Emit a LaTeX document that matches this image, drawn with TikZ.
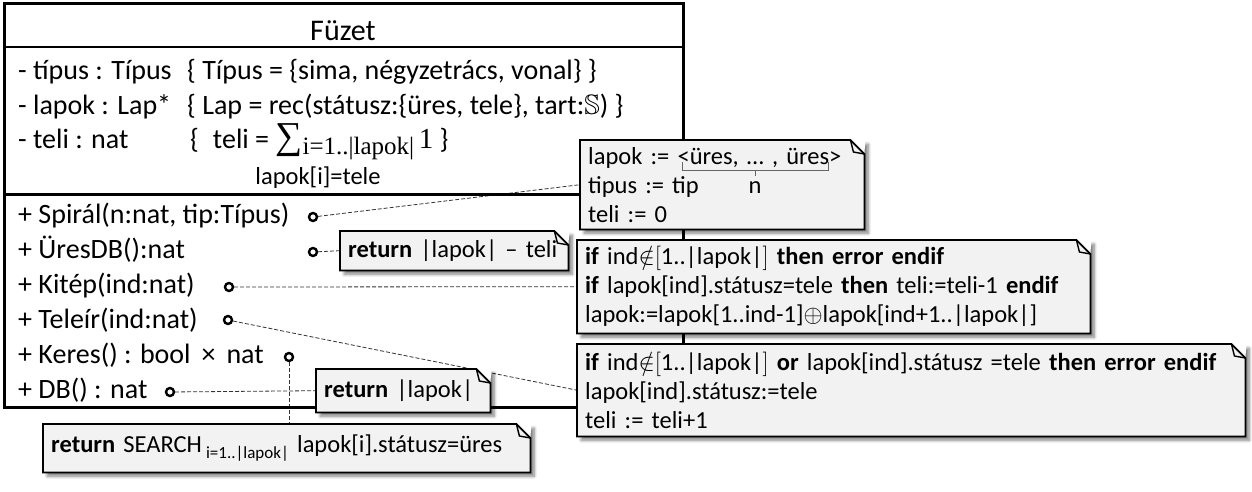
\RequirePackage{fix-cm}
\documentclass[tikz,border=0pt]{standalone}
\usepackage{amssymb}
\usepackage[no-math]{fontspec}
\setmainfont{Carlito}
\newfontfamily\sumfont{Liberation Serif}
\usetikzlibrary{shadows.blur,backgrounds}

\definecolor{notefill}{HTML}{F2F2F2}
\newcommand\fuzetfont{\fontsize{28}{34}\selectfont}
\newcommand\megjfont{\fontsize{24.5}{29}\selectfont}

\tikzset{
  classline/.style={anchor=base west, inner sep=0pt, font=\fuzetfont},
  port/.style={circle, draw, fill=white, line width=2.4pt, inner sep=0pt, minimum size=8pt},
  link/.style={line width=0.8pt, black!80, dash pattern=on 4pt off 2pt},
  megj/.style={anchor=north west, fill=notefill, inner xsep=8pt, inner ysep=0pt,
    align=left, font=\megjfont,
    blur shadow={shadow xshift=4pt, shadow yshift=-4pt, shadow blur steps=8,
      shadow blur radius=3pt, shadow opacity=50}},
}

% szamarfules jegyzet keret
\newcommand\szamar[1]{%
  \fill[white] ([xshift=-14pt]#1.north east) -- ([xshift=1pt,yshift=1pt]#1.north east)
    -- ([yshift=-14pt]#1.north east) -- cycle;
  \draw[line width=1.8pt] (#1.north west) -- ([xshift=-14pt]#1.north east)
    -- ([yshift=-14pt]#1.north east) -- (#1.south east) -- (#1.south west) -- cycle;
  \draw[line width=1.4pt] ([xshift=-14pt]#1.north east)
    -- ([xshift=-11pt,yshift=-12pt]#1.north east) -- ([yshift=-14pt]#1.north east);
}

\begin{document}
\begin{tikzpicture}[x=1pt, y=-1pt]
\useasboundingbox (0,0) rectangle (1252,492);

% osztaly
\draw[line width=3pt] (4,4) rectangle (683,407);
\draw[line width=2pt] (4,47) -- (683,47);
\draw[line width=3pt] (4,194) -- (683,194);

\node[anchor=base, inner sep=0pt, font=\fontsize{30}{36}\selectfont] (fuzet) at (343,41) {Füzet};

\node[classline] (tipus) at (18,80) {- típus : Típus};
\node[classline] (tipusdef) at (187,80) {\{ Típus = \{sima, négyzetrács, vonal\} \}};
\node[classline] (lapok) at (18,114) {- lapok : Lap*};
\node[classline] (lapokdef) at (187,114) {\{ Lap = rec(státusz:\{üres, tele\}, tart:$\mathbb{S}$) \}};
\node[classline] (teli) at (18,148) {- teli : nat};
\node[classline] (telidef) at (190,148) {\{\hspace{14pt}teli =
  {\sumfont\fontsize{38}{40}\selectfont ∑}\raisebox{-6pt}{\sumfont\fontsize{25}{25}\selectfont i=1..|lapok|}\,{\sumfont\fontsize{29}{30}\selectfont 1} \}};
\node[anchor=base, inner sep=0pt, font=\megjfont] (feltetel) at (318,184) {lapok[i]=tele};

\node[classline] (spiral) at (18,223) {+ Spirál(n:nat, tip:Típus)};
\node[classline] (uresdb) at (18,258) {+ ÜresDB():nat};
\node[classline] (kitep) at (18,293) {+ Kitép(ind:nat)};
\node[classline] (teleir) at (18,328) {+ Teleír(ind:nat)};
\node[classline] (keres) at (18,363) {+ Keres() : bool \,×\, nat};
\node[classline] (db) at (18,398) {+ DB() : nat};

% jegyzetek
\node[megj, minimum width=284pt, minimum height=89pt, text width=268pt] (spiralnote) at (580,140)
  {lapok := <üres, … , üres>\\tipus := tip\\teli := 0};
\node[megj, minimum width=228pt, minimum height=39pt, text width=212pt] (uresnote) at (340,231)
  {\textbf{return} |lapok| – teli};
\node[megj, minimum width=513pt, minimum height=93pt, text width=497pt] (kitepnote) at (577,240)
  {\textbf{if} ind$\mathord{\notin}[$1..|lapok|$]$ \textbf{then error endif}\\
   \textbf{if} lapok[ind].státusz=tele \textbf{then} teli:=teli-1 \textbf{endif}\\
   lapok:=lapok[1..ind-1]$\oplus$lapok[ind+1..|lapok|]};
\node[megj, minimum width=668pt, minimum height=92pt, text width=652pt] (teleirnote) at (577,344)
  {\textbf{if} ind$\mathord{\notin}[$1..|lapok|$]$ \textbf{or} lapok[ind].státusz =tele \textbf{then error endif}\\
   lapok[ind].státusz:=tele\\
   teli := teli+1};
\node[megj, minimum width=174pt, minimum height=43pt, text width=158pt] (dbnote) at (316,369)
  {\textbf{return} |lapok|};
\node[megj, minimum width=487pt, minimum height=48pt, text width=471pt] (keresnote) at (43,424)
  {\textbf{return} SEARCH\,\raisebox{-6pt}{\fontsize{17}{17}\selectfont i=1..|lapok|} lapok[i].státusz=üres};

\foreach \n in {spiralnote,uresnote,kitepnote,teleirnote,dbnote,keresnote}
  \szamar{\n};

% n hosszu sorozat
\draw[black!60, line width=1pt] ([xshift=102pt,yshift=-22pt]spiralnote.north west)
  -- ++(0,8) -- ++(146,0) -- ++(0,-8);
\draw[black!60, line width=1pt] ([xshift=175pt,yshift=-30pt]spiralnote.north west) -- ++(0,6);
\node[anchor=base, inner sep=0pt, font=\megjfont] (nhossz)
  at ([xshift=175pt,yshift=-53pt]spiralnote.north west) {n};

% portok
\node[port] (spiralport) at (313,217) {};
\node[port] (uresport) at (313,252) {};
\node[port] (kitepport) at (229,287) {};
\node[port] (teleirport) at (228,320) {};
\node[port] (keresport) at (289,357) {};
\node[port] (dbport) at (170,392) {};

\begin{scope}[on background layer]
  \draw[link] (spiralport) -- (spiralnote.west);
  \draw[link] (uresport) -- (uresnote.west);
  \draw[link] (kitepport) -- (kitepnote.west);
  \draw[link] (teleirport) -- (teleirnote.west);
  \draw[link] (keresport) -- (keresport |- keresnote.north);
  \draw[link] (dbport) -- (dbnote.west);
\end{scope}
\end{tikzpicture}
\end{document}
